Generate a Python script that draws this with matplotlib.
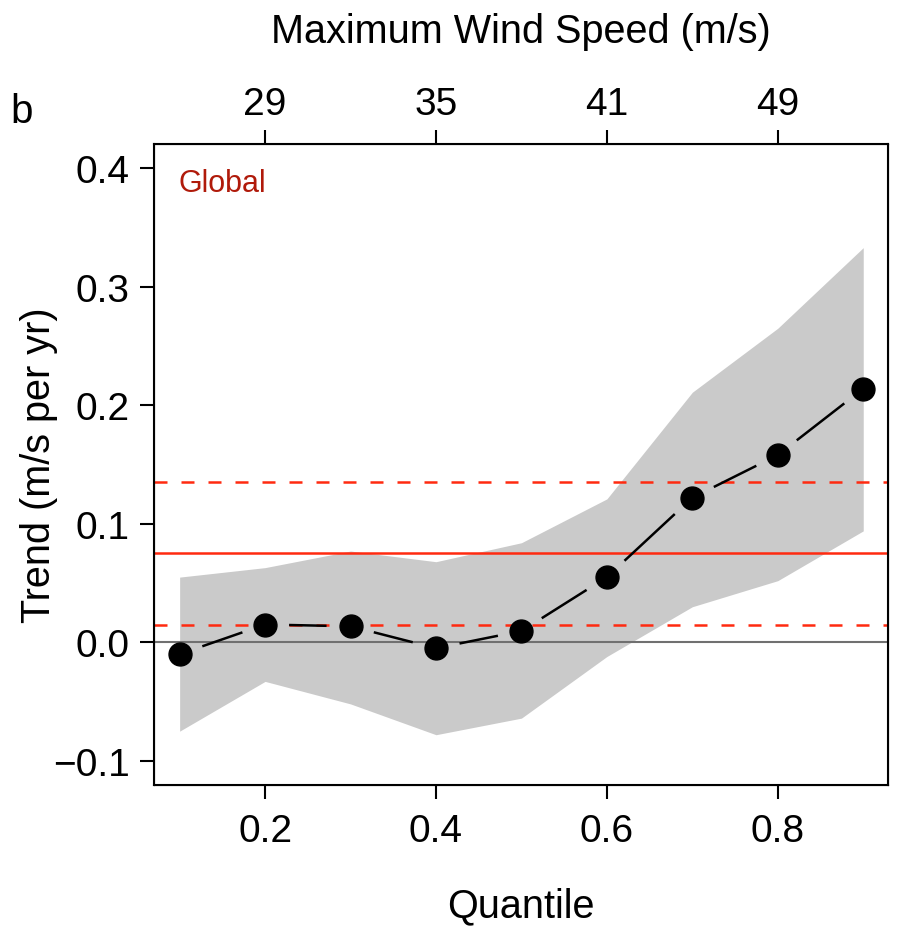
import numpy as np
import matplotlib.pyplot as plt
from matplotlib import font_manager

plt.rcParams['font.family'] = ['Liberation Sans', 'DejaVu Sans']

quantile = [0.1, 0.2, 0.3, 0.4, 0.5, 0.6, 0.7, 0.8, 0.9]
trend = [-0.010, 0.015, 0.0135, -0.005, 0.0095, 0.055, 0.122, 0.158, 0.214]
band_upper = [0.055, 0.063, 0.077, 0.068, 0.084, 0.121, 0.211, 0.265, 0.333]
band_lower = [-0.075, -0.033, -0.052, -0.078, -0.064, -0.012, 0.030, 0.052, 0.094]

global_trend = 0.075
global_lo = 0.0145
global_hi = 0.135

top_ticks = [0.2, 0.4, 0.6, 0.8]
top_labels = ['29', '35', '41', '49']

# narrow face for the "Global" tag if it is there
names = {f.name for f in font_manager.fontManager.ttflist}
narrow = 'Liberation Sans Narrow' in names

fig = plt.figure(figsize=(8.98, 9.28), dpi=100)
ax = fig.add_axes([0.1715, 0.1533, 0.8174, 0.6905])
ax.set_xlim(0.07, 0.929)
ax.set_ylim(-0.1202, 0.4205)

ax.fill_between(quantile, band_lower, band_upper, color='#cacaca', lw=0, zorder=1)
ax.axhline(0, color='#707070', lw=1.5, zorder=2)
ax.axhline(global_trend, color='#ff2a10', lw=1.8, zorder=2)
ax.axhline(global_lo, color='#ff2a10', lw=1.8, ls=(0, (5.2, 5.6)), zorder=2)
ax.axhline(global_hi, color='#ff2a10', lw=1.8, ls=(0, (5.2, 5.6)), zorder=2)

# R type="b": line segments that stop short of each point
pts = ax.transData.transform(np.column_stack([quantile, trend]))
inv = ax.transData.inverted()
gap = 24
for i in range(len(pts) - 1):
    p0, p1 = pts[i], pts[i + 1]
    d = p1 - p0
    L = np.hypot(*d)
    a = inv.transform(p0 + d * gap / L)
    b = inv.transform(p1 - d * gap / L)
    ax.plot([a[0], b[0]], [a[1], b[1]], color='black', lw=1.8,
            solid_capstyle='butt', zorder=3)
ax.plot(quantile, trend, 'o', color='black', ms=16.5, zorder=4)

if narrow:
    ax.text(0.099, 0.3806, 'Global', color='#b01a0a', fontsize=27,
            family=['Liberation Sans Narrow', 'Liberation Sans'], va='baseline', ha='left')
else:
    ax.text(0.099, 0.3806, 'Global', color='#b01a0a', fontsize=22,
            va='baseline', ha='left')

ax.set_xticks([0.2, 0.4, 0.6, 0.8])
ax.set_xticklabels(['0.2', '0.4', '0.6', '0.8'])
ax.set_yticks([-0.1, 0.0, 0.1, 0.2, 0.3, 0.4])
ax.set_yticklabels(['\u22120.1', '0.0', '0.1', '0.2', '0.3', '0.4'])
ax.tick_params(direction='out', length=10, width=1.5, labelsize=28)
ax.tick_params(axis='x', pad=10.5)
ax.tick_params(axis='y', pad=7.5)
for s in ax.spines.values():
    s.set_linewidth(1.5)

ax.set_xlabel('Quantile', fontsize=28.5)
ax.xaxis.set_label_coords(0.5, -0.158)
ax.set_ylabel('Trend (m/s per yr)', fontsize=28.5)
ax.yaxis.set_label_coords(-0.131, 0.5)

ax2 = ax.twiny()
ax2.set_xlim(ax.get_xlim())
ax2.set_xticks(top_ticks)
ax2.set_xticklabels(top_labels)
ax2.tick_params(direction='out', length=10, width=1.5, labelsize=28, pad=6)
ax2.set_xlabel('Maximum Wind Speed (m/s)', fontsize=28.5)
ax2.xaxis.set_label_coords(0.5, 1.159)

fig.text(0.011, 1 - 123 / 928, 'b', fontsize=29, va='baseline', ha='left')

fig.savefig('out.png', dpi=100)
